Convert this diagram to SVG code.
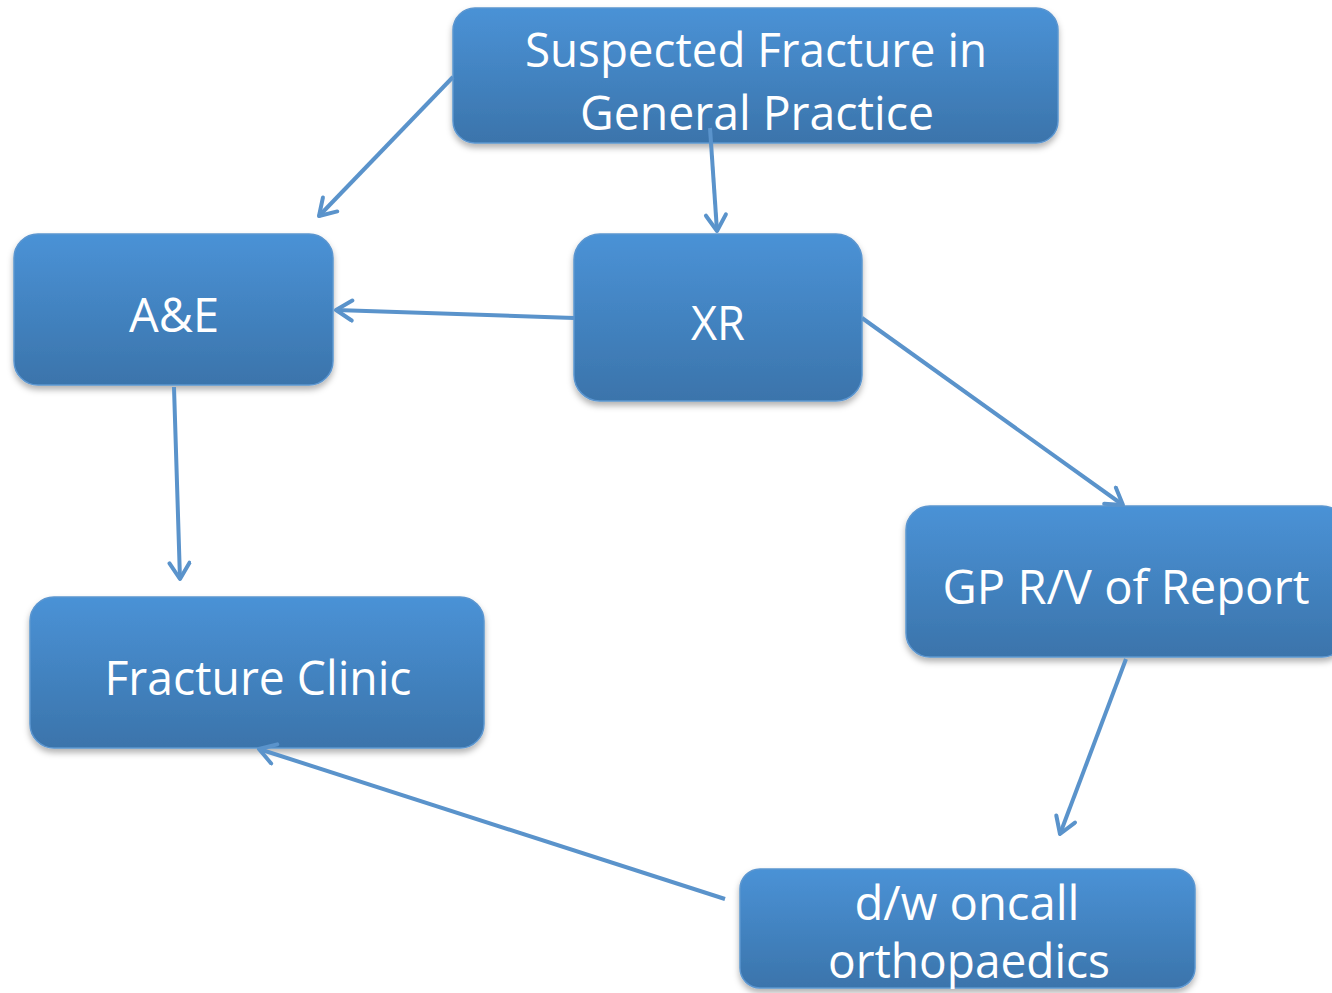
<svg xmlns="http://www.w3.org/2000/svg" width="1332" height="993" viewBox="0 0 1332 993">
<defs>
<linearGradient id="g" x1="0" y1="0" x2="0" y2="1">
<stop offset="0" stop-color="#4a92d6"/>
<stop offset="1" stop-color="#3b74ab"/>
</linearGradient>
<filter id="sh" x="-10%" y="-10%" width="120%" height="130%">
<feDropShadow dx="0" dy="4" stdDeviation="3" flood-color="#000" flood-opacity="0.3"/>
</filter>
<marker id="ah" markerUnits="userSpaceOnUse" markerWidth="30" markerHeight="30" refX="20" refY="12" orient="auto">
<path d="M4,2 L20,12 L4,22" fill="none" stroke="#5a93cb" stroke-width="4" stroke-linecap="round" stroke-linejoin="round"/>
</marker>
</defs>
<style>
.box{fill:url(#g);stroke:#5b96d0;stroke-width:1.5;filter:url(#sh)}
.t{font-family:"Open Sans","Noto Sans",sans-serif;font-size:48px;fill:#fff;text-anchor:middle}
.c{fill:none;stroke:#5a93cb;stroke-width:4;marker-end:url(#ah)}
</style>
<rect width="1332" height="993" fill="#fff"/>
<g id="n-suspected"><rect class="box" x="453" y="8" width="605" height="135" rx="22"/>
<text class="t" x="756" y="67" textLength="462" lengthAdjust="spacingAndGlyphs">Suspected Fracture in</text>
<text class="t" x="757" y="130" textLength="354" lengthAdjust="spacingAndGlyphs">General Practice</text></g>
<g id="n-ae"><rect class="box" x="14" y="234" width="319" height="151" rx="24"/>
<text class="t" x="174" y="332" textLength="90" lengthAdjust="spacingAndGlyphs">A&amp;E</text></g>
<g id="n-xr"><rect class="box" x="574" y="234" width="288" height="167" rx="26"/>
<text class="t" x="718" y="340" textLength="54" lengthAdjust="spacingAndGlyphs">XR</text></g>
<g id="n-gp"><rect class="box" x="906" y="506" width="440" height="151" rx="24"/>
<text class="t" x="1126" y="604" textLength="367" lengthAdjust="spacingAndGlyphs">GP R/V of Report</text></g>
<g id="n-fc"><rect class="box" x="30" y="597" width="454" height="151" rx="24"/>
<text class="t" x="258" y="695" textLength="307" lengthAdjust="spacingAndGlyphs">Fracture Clinic</text></g>
<g id="n-dw"><rect class="box" x="740" y="869" width="455" height="119" rx="20"/>
<text class="t" x="967" y="920" textLength="225" lengthAdjust="spacingAndGlyphs">d/w oncall</text>
<text class="t" x="969" y="978" textLength="282" lengthAdjust="spacingAndGlyphs">orthopaedics</text></g>
<g id="connectors">
<line class="c" x1="453" y1="77" x2="319" y2="216"/>
<line class="c" x1="710" y1="128" x2="717" y2="231"/>
<line class="c" x1="574" y1="318" x2="336" y2="310"/>
<line class="c" x1="862" y1="318" x2="1123" y2="505"/>
<line class="c" x1="174" y1="387" x2="180" y2="579"/>
<line class="c" x1="1126" y1="659" x2="1060" y2="834"/>
<line class="c" x1="725" y1="899" x2="259" y2="749"/>
</g>
</svg>
